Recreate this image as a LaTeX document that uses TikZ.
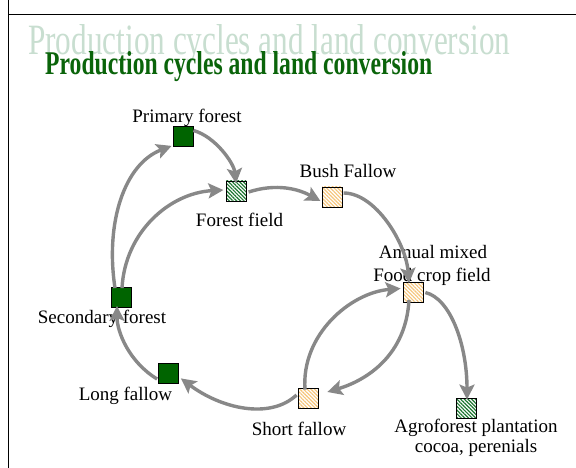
\documentclass[tikz,border=0pt]{standalone}
\usepackage{fontspec}
\setmainfont{Liberation Serif}
\usetikzlibrary{arrows.meta,patterns.meta}
\definecolor{dkgreen}{RGB}{0,100,0}
\definecolor{ttlgreen}{RGB}{10,100,10}
\definecolor{ghost}{RGB}{200,222,208}
\definecolor{arrgray}{RGB}{136,136,136}
\definecolor{hatchgreen}{RGB}{30,120,50}
\definecolor{paleorange}{RGB}{255,236,190}
\definecolor{hatchorange}{RGB}{246,196,120}
\tikzset{
  box/.style={draw=black,line width=0.8pt,minimum size=20pt,inner sep=0pt},
  darkbox/.style={box,fill=dkgreen},
  greenhatch/.style={box,fill=white,pattern={Lines[angle=-45,distance=2.6pt,line width=1.2pt]},pattern color=hatchgreen},
  orangehatch/.style={box,fill=paleorange,pattern={Lines[angle=-45,distance=2.6pt,line width=1.1pt]},pattern color=hatchorange},
  lbl/.style={font=\fontsize{19}{22}\selectfont,inner sep=0pt,anchor=base,align=center},
  flow/.style={draw=arrgray,line width=3.4pt,-{Stealth[length=15pt,width=15pt,inset=3pt]}},
}
\begin{document}
\begin{tikzpicture}[x=1pt,y=-1pt]
\useasboundingbox (0,0) rectangle (576,468);
\fill[white] (0,0) rectangle (576,468);
% frame lines
\coordinate (vtop) at (8.5,0);
\coordinate (vbot) at (8.5,468);
\coordinate (hl) at (8.5,14.5);
\coordinate (hr) at (576,14.5);
\draw[line width=1.6pt] (vtop) -- (vbot);
\draw[line width=1.6pt] (hl) -- (hr);
% titles
\node[anchor=base west,inner sep=0pt,text=ghost] (ghosttitle) at (28,55)
  {\resizebox{482pt}{30pt}{Production cycles and land conversion}};
\node[anchor=base west,inner sep=0pt,text=ttlgreen] (title) at (45,75)
  {\resizebox{387pt}{23pt}{\bfseries Production cycles and land conversion}};
% boxes
\node[darkbox] (pf) at (183,136.5) {};
\node[greenhatch] (ff) at (236,191) {};
\node[orangehatch] (bf) at (332,197) {};
\node[orangehatch] (am) at (413,292.5) {};
\node[greenhatch] (ag) at (466,408) {};
\node[orangehatch] (sf) at (308,398) {};
\node[darkbox] (lf) at (168.5,373) {};
\node[darkbox] (sec) at (121,297.5) {};
% labels
\node[lbl] (pfl) at (187,123) {Primary forest};
\node[lbl] (ffl) at (239.5,226) {Forest field};
\node[lbl] (bfl) at (348,178) {Bush Fallow};
\node[lbl] (aml1) at (433,258) {Annual mixed};
\node[lbl] (aml2) at (432,281) {Food crop field};
\node[lbl] (agl1) at (476,432) {Agroforest plantation};
\node[lbl] (agl2) at (476,452) {cocoa, perenials};
\node[lbl] (sfl) at (299,435) {Short fallow};
\node[lbl] (lfl) at (125.5,400) {Long fallow};
\node[lbl] (secl) at (102,323) {Secondary forest};
% arrows
\draw[flow] ([yshift=6pt]pf.east) .. controls +(22,6) and +(-2,-20) .. ([yshift=-3pt]ff.north);
\draw[flow] ([xshift=2pt,yshift=-1pt]ff.east) .. controls +(28,-9) and +(-22,-12) .. ([xshift=-1pt,yshift=-4pt]bf.west);
\draw[flow] ([xshift=1pt,yshift=4pt]bf.east) .. controls +(32,0) and +(-3,-40) .. ([xshift=-4pt,yshift=-1pt]am.north);
\draw[flow] ([xshift=2pt,yshift=0pt]am.east) .. controls +(25,6) and +(0,-55) .. ([yshift=-2pt,xshift=1pt]ag.north);
\draw[flow] ([xshift=-4pt,yshift=3pt]am.south) .. controls +(-3,55) and +(40,-12) .. ([xshift=9pt,yshift=6pt]sf.east);
\draw[flow] ([xshift=-3pt,yshift=-2pt]sf.north) .. controls +(-4,-55) and +(-50,4) .. ([xshift=-2pt,yshift=4pt]am.west);
\draw[flow] ([xshift=-1pt,yshift=3pt]sf.west) .. controls +(-27,25) and +(40,30) .. ([xshift=2pt,yshift=5pt]lf.south east);
\draw[flow] ([xshift=-1pt,yshift=-6pt]lf.west) .. controls +(-28,-17) and +(0,26) .. ([xshift=-4pt,yshift=2pt]sec.south);
\draw[flow] ([xshift=-6pt,yshift=-1pt]sec.north) .. controls +(-10,-66) and +(-47,18) .. ([xshift=-1pt,yshift=1pt]pf.south west);
\draw[flow] ([xshift=1pt,yshift=-1pt]sec.north) .. controls +(3,-56) and +(-54,3) .. ([xshift=-2pt,yshift=1pt]ff.west);
\end{tikzpicture}
\end{document}
